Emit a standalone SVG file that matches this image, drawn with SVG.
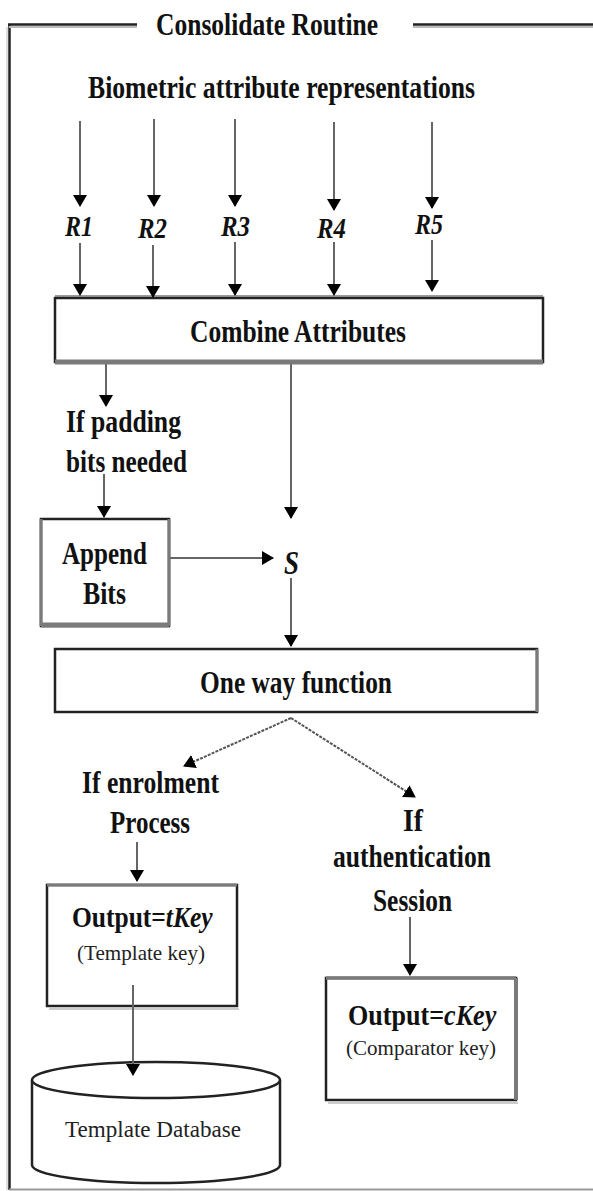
<svg xmlns="http://www.w3.org/2000/svg" width="593" height="1191" viewBox="0 0 593 1191">
<style>
  .t { font-family: "Liberation Serif", "Times New Roman", serif; font-weight: bold; fill: #111; }
  .i { font-style: italic; }
  .n { font-family: "Liberation Serif", "Times New Roman", serif; font-weight: normal; fill: #222; }
  .box { fill: #fff; stroke: #222; stroke-width: 2.5; }
  .sh { stroke: #7a7a7a; fill: none; }
  .c { stroke: #666; stroke-width: 2; fill: none; marker-end: url(#ah); }
  .d { stroke: #555; stroke-dasharray: 3,1.2; }
  .frame { stroke: #222; stroke-width: 2.5; fill: none; }
</style>
<defs>
  <marker id="ah" markerUnits="userSpaceOnUse" markerWidth="12" markerHeight="14" viewBox="0 0 12 14" refX="11" refY="7" orient="auto">
    <path d="M0,0 L12,7 L0,14 Z" fill="#000"/>
  </marker>
</defs>
<rect width="593" height="1191" fill="#fff"/>

<g id="frame">
  <line x1="7" y1="27" x2="7" y2="1190" stroke="#ddd" stroke-width="2"/>
  <line x1="9.5" y1="25" x2="9.5" y2="1190" class="frame"/>
  <line x1="9" y1="27" x2="137" y2="27" stroke="#bbb" stroke-width="2"/>
  <line x1="8" y1="24.5" x2="137" y2="24.5" class="frame"/>
  <line x1="413" y1="27" x2="593" y2="27" stroke="#bbb" stroke-width="2"/>
  <line x1="413" y1="24.5" x2="593" y2="24.5" class="frame"/>
  <line x1="9" y1="1189.5" x2="593" y2="1189.5" stroke="#999" stroke-width="2"/>
  <text class="t" x="156" y="35" font-size="32" textLength="222" lengthAdjust="spacingAndGlyphs">Consolidate Routine</text>
</g>

<g id="label-biometric">
  <text class="t" x="88" y="98" font-size="31" textLength="387" lengthAdjust="spacingAndGlyphs">Biometric attribute representations</text>
</g>

<g id="labels-R">
  <text class="t i" x="65" y="236" font-size="29" textLength="28" lengthAdjust="spacingAndGlyphs">R1</text>
  <text class="t i" x="138" y="238" font-size="29" textLength="29" lengthAdjust="spacingAndGlyphs">R2</text>
  <text class="t i" x="221" y="236" font-size="29" textLength="29" lengthAdjust="spacingAndGlyphs">R3</text>
  <text class="t i" x="317" y="238" font-size="29" textLength="29" lengthAdjust="spacingAndGlyphs">R4</text>
  <text class="t i" x="415" y="234" font-size="29" textLength="28" lengthAdjust="spacingAndGlyphs">R5</text>
</g>

<g id="combine">
  <rect class="box" x="55" y="298" width="488" height="64"/>
  <line class="sh" x1="55" y1="362" x2="543" y2="362" stroke-width="5"/>
  <line class="sh" x1="55" y1="296" x2="543" y2="296" stroke="#bbb" stroke-width="1.5"/>
  <text class="t" x="190" y="342" font-size="32" textLength="216" lengthAdjust="spacingAndGlyphs">Combine Attributes</text>
</g>

<g id="label-padding">
  <text class="t" x="66" y="432" font-size="31" textLength="115" lengthAdjust="spacingAndGlyphs">If padding</text>
  <text class="t" x="66" y="472" font-size="31" textLength="121" lengthAdjust="spacingAndGlyphs">bits needed</text>
</g>

<g id="append">
  <rect class="box" x="41" y="519" width="128" height="107" stroke="#000"/>
  <line class="sh" x1="41" y1="519" x2="41" y2="626" stroke-width="3"/>
  <line class="sh" x1="169" y1="519" x2="169" y2="626" stroke-width="3"/>
  <line class="sh" x1="41" y1="625" x2="169" y2="625" stroke-width="5"/>
  <text class="t" x="62" y="564" font-size="31" textLength="85" lengthAdjust="spacingAndGlyphs">Append</text>
  <text class="t" x="83" y="604" font-size="31" textLength="43" lengthAdjust="spacingAndGlyphs">Bits</text>
</g>

<g id="S">
  <text class="t i" x="284" y="574" font-size="34" textLength="15" lengthAdjust="spacingAndGlyphs">S</text>
</g>

<g id="oneway">
  <rect class="box" x="55" y="649" width="482" height="63" stroke="#000"/>
  <line class="sh" x1="537" y1="649" x2="537" y2="712" stroke-width="3"/>
  <text class="t" x="200" y="693" font-size="31" textLength="192" lengthAdjust="spacingAndGlyphs">One way function</text>
</g>

<g id="label-enrolment">
  <text class="t" x="82" y="793" font-size="31" textLength="137" lengthAdjust="spacingAndGlyphs">If enrolment</text>
  <text class="t" x="110" y="833" font-size="31" textLength="80" lengthAdjust="spacingAndGlyphs">Process</text>
</g>

<g id="label-auth">
  <text class="t" x="403" y="831" font-size="31" textLength="20" lengthAdjust="spacingAndGlyphs">If</text>
  <text class="t" x="333" y="867" font-size="31" textLength="158" lengthAdjust="spacingAndGlyphs">authentication</text>
  <text class="t" x="373" y="911" font-size="31" textLength="79" lengthAdjust="spacingAndGlyphs">Session</text>
</g>

<g id="tkey">
  <line x1="49" y1="1009" x2="239" y2="1009" stroke="#ccc" stroke-width="2"/>
  <rect class="box" x="47" y="885" width="190" height="121" stroke="#111"/>
  <line class="sh" x1="47" y1="885" x2="237" y2="885" stroke="#000" stroke-width="3"/>
  <text class="t" transform="translate(72,927) scale(0.85,1)" x="0" y="0" font-size="30">Output=<tspan class="i">tKey</tspan></text>
  <text class="n" x="77" y="960" font-size="22" textLength="128" lengthAdjust="spacingAndGlyphs">(Template key)</text>
</g>

<g id="ckey">
  <line x1="328" y1="1103" x2="518" y2="1103" stroke="#ccc" stroke-width="2"/>
  <rect class="box" x="326" y="978" width="190" height="122" stroke="#000"/>
  <line class="sh" x1="516" y1="978" x2="516" y2="1100" stroke-width="4"/>
  <line class="sh" x1="326" y1="978" x2="516" y2="978" stroke="#000" stroke-width="3.5"/>
  <text class="t" transform="translate(348,1025) scale(0.87,1)" x="0" y="0" font-size="30">Output=<tspan class="i">cKey</tspan></text>
  <text class="n" x="346" y="1055" font-size="22" textLength="150" lengthAdjust="spacingAndGlyphs">(Comparator key)</text>
</g>

<g id="database">
  <path d="M32,1080 L32,1165 A124,18 0 0,0 280,1165 L280,1080" fill="#fff" stroke="#222" stroke-width="2.5"/>
  <ellipse cx="156" cy="1080" rx="124" ry="18" fill="#fff" stroke="#222" stroke-width="2.5"/>
  <text class="n" x="65" y="1137" font-size="24" textLength="176" lengthAdjust="spacingAndGlyphs">Template Database</text>
</g>

<g id="connectors">
  <line class="c" x1="80" y1="121" x2="80" y2="206"/>
  <line class="c" x1="154" y1="119" x2="154" y2="206"/>
  <line class="c" x1="235" y1="119" x2="235" y2="206"/>
  <line class="c" x1="334" y1="122" x2="334" y2="210"/>
  <line class="c" x1="432" y1="122" x2="432" y2="208"/>

  <line class="c" x1="80" y1="243" x2="80" y2="295"/>
  <line class="c" x1="153" y1="245" x2="153" y2="297"/>
  <line class="c" x1="235" y1="242" x2="235" y2="295"/>
  <line class="c" x1="334" y1="242" x2="334" y2="295"/>
  <line class="c" x1="432" y1="240" x2="432" y2="291"/>

  <line class="c" x1="106" y1="364" x2="106" y2="406"/>
  <line class="c" x1="104" y1="474" x2="104" y2="517"/>
  <line class="c" x1="291" y1="364" x2="291" y2="518"/>
  <line class="c" x1="170" y1="558" x2="273" y2="558"/>
  <line class="c" x1="291" y1="578" x2="291" y2="646"/>
  <line class="c d" x1="291" y1="718" x2="184" y2="766"/>
  <line class="c d" x1="291" y1="718" x2="415" y2="797"/>
  <line class="c" x1="137" y1="842" x2="137" y2="881"/>
  <line class="c" x1="410" y1="917" x2="410" y2="975"/>
  <line class="c" x1="133" y1="985" x2="133" y2="1075"/>
</g>
</svg>
